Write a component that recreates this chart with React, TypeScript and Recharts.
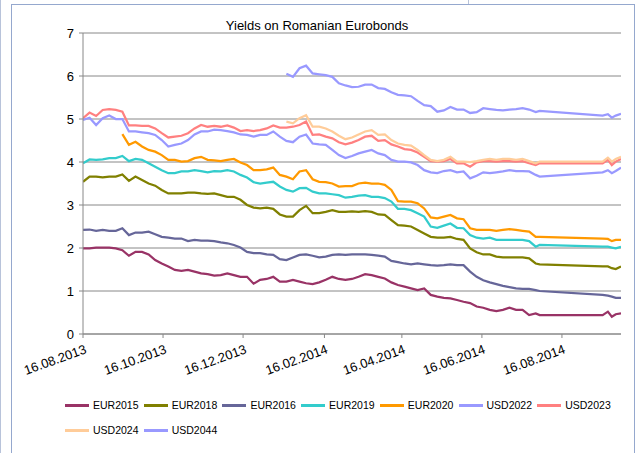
import React from 'react';
import { LineChart, Line, XAxis, YAxis, CartesianGrid } from 'recharts';

// Days since 16.08.2013 (gap in the data between day 348 and day 396)
const days = [
  0, 5, 10, 15, 20, 25, 30, 35, 40, 45,
  50, 55, 60, 65, 70, 75, 80, 85, 90, 95,
  100, 105, 110, 115, 120, 125, 130, 135, 140, 145,
  150, 155, 160, 165, 170, 175, 180, 185, 190, 195,
  200, 205, 210, 215, 220, 225, 230, 235, 240, 245,
  250, 255, 260, 265, 270, 275, 280, 285, 290, 295,
  300, 305, 310, 315, 320, 325, 330, 335, 340, 345,
  348, 396, 400, 403, 406, 410,
];

const tickDays = [0, 61, 122, 184, 243, 304, 365];
const tickLabels = ['16.08.2013', '16.10.2013', '16.12.2013', '16.02.2014', '16.04.2014', '16.06.2014', '16.08.2014'];
const yTicks = [0, 1, 2, 3, 4, 5, 6, 7];

const seriesNames = ['EUR2015', 'EUR2018', 'EUR2016', 'EUR2019', 'EUR2020', 'USD2022', 'USD2023', 'USD2024', 'USD2044'];
const seriesColors = ['#993366', '#808000', '#666699', '#33CCCC', '#FF9900', '#9999FF', '#FF8080', '#FFCC99', '#9999FF'];

const eur2015 = [
  1.99, 1.99, 2.01, 2.01, 2.01, 1.99, 1.95, 1.82, 1.91, 1.91,
  1.85, 1.72, 1.64, 1.57, 1.49, 1.47, 1.49, 1.45, 1.41, 1.39,
  1.36, 1.37, 1.41, 1.37, 1.33, 1.33, 1.17, 1.26, 1.28, 1.33,
  1.22, 1.22, 1.26, 1.22, 1.18, 1.16, 1.20, 1.26, 1.33, 1.28,
  1.26, 1.28, 1.33, 1.39, 1.37, 1.33, 1.29, 1.20, 1.14, 1.10,
  1.06, 1.02, 1.06, 0.91, 0.87, 0.84, 0.83, 0.79, 0.75, 0.72,
  0.64, 0.61, 0.56, 0.53, 0.56, 0.61, 0.56, 0.56, 0.44, 0.48,
  0.44, 0.44, 0.52, 0.40, 0.46, 0.48,
];
const eur2018 = [
  3.54, 3.66, 3.66, 3.64, 3.66, 3.66, 3.71, 3.56, 3.66, 3.58,
  3.50, 3.45, 3.35, 3.27, 3.27, 3.27, 3.29, 3.29, 3.27, 3.26,
  3.27, 3.23, 3.19, 3.19, 3.12, 3.00, 2.94, 2.92, 2.94, 2.91,
  2.78, 2.73, 2.73, 2.88, 2.98, 2.81, 2.81, 2.84, 2.88, 2.84,
  2.84, 2.85, 2.84, 2.86, 2.84, 2.78, 2.77, 2.65, 2.53, 2.52,
  2.50, 2.42, 2.34, 2.26, 2.24, 2.24, 2.26, 2.21, 2.19, 1.99,
  1.90, 1.85, 1.85, 1.80, 1.78, 1.78, 1.78, 1.78, 1.76, 1.64,
  1.62, 1.57, 1.57, 1.53, 1.51, 1.57,
];
const eur2016 = [
  2.42, 2.43, 2.40, 2.42, 2.40, 2.40, 2.46, 2.30, 2.36, 2.36,
  2.38, 2.32, 2.26, 2.24, 2.22, 2.22, 2.16, 2.19, 2.17, 2.17,
  2.16, 2.13, 2.11, 2.07, 2.01, 1.91, 1.88, 1.88, 1.85, 1.84,
  1.74, 1.72, 1.78, 1.84, 1.85, 1.82, 1.78, 1.80, 1.84, 1.85,
  1.84, 1.85, 1.85, 1.85, 1.84, 1.82, 1.80, 1.70, 1.67, 1.64,
  1.62, 1.64, 1.62, 1.60, 1.59, 1.60, 1.62, 1.60, 1.60, 1.45,
  1.33, 1.25, 1.20, 1.16, 1.12, 1.09, 1.06, 1.05, 1.05, 1.02,
  1.00, 0.91, 0.89, 0.87, 0.84, 0.84,
];
const eur2019 = [
  3.97, 4.06, 4.05, 4.06, 4.09, 4.09, 4.14, 4.02, 4.07, 4.05,
  3.97, 3.89, 3.81, 3.74, 3.74, 3.78, 3.78, 3.81, 3.79, 3.76,
  3.79, 3.78, 3.81, 3.78, 3.70, 3.64, 3.53, 3.50, 3.52, 3.54,
  3.43, 3.35, 3.31, 3.39, 3.40, 3.31, 3.27, 3.27, 3.25, 3.23,
  3.17, 3.19, 3.22, 3.23, 3.19, 3.19, 3.16, 3.08, 2.91, 2.91,
  2.88, 2.81, 2.73, 2.50, 2.47, 2.52, 2.57, 2.47, 2.46, 2.30,
  2.24, 2.22, 2.24, 2.19, 2.19, 2.19, 2.19, 2.19, 2.16, 2.03,
  2.07, 2.03, 2.03, 2.01, 1.99, 2.03,
];
const eur2020 = [
  null, null, null, null, null, null, 4.65, 4.40, 4.47, 4.36,
  4.28, 4.24, 4.16, 4.05, 4.05, 4.01, 4.02, 4.09, 4.12, 4.05,
  4.04, 4.02, 4.05, 4.07, 3.99, 3.93, 3.81, 3.81, 3.83, 3.87,
  3.70, 3.66, 3.60, 3.78, 3.81, 3.60, 3.54, 3.53, 3.50, 3.43,
  3.44, 3.44, 3.50, 3.52, 3.50, 3.50, 3.47, 3.35, 3.09, 3.08,
  3.08, 3.04, 2.92, 2.71, 2.69, 2.73, 2.77, 2.69, 2.67, 2.46,
  2.42, 2.42, 2.42, 2.40, 2.42, 2.44, 2.42, 2.40, 2.38, 2.26,
  2.26, 2.22, 2.21, 2.16, 2.19, 2.19,
];
const usd2022 = [
  null, null, null, null, null, null, null, null, null, null,
  null, null, null, null, null, null, null, null, null, null,
  null, null, null, null, null, null, null, null, null, null,
  null, 6.05, 5.98, 6.18, 6.24, 6.06, 6.04, 6.02, 5.98, 5.83,
  5.78, 5.74, 5.75, 5.80, 5.80, 5.72, 5.70, 5.62, 5.56, 5.55,
  5.53, 5.42, 5.32, 5.30, 5.17, 5.20, 5.28, 5.22, 5.22, 5.14,
  5.16, 5.25, 5.23, 5.21, 5.20, 5.22, 5.23, 5.25, 5.22, 5.16,
  5.19, 5.08, 5.11, 5.03, 5.08, 5.12,
];
const usd2023 = [
  5.02, 5.15, 5.07, 5.21, 5.23, 5.21, 5.17, 4.85, 4.85, 4.84,
  4.84, 4.78, 4.67, 4.57, 4.59, 4.61, 4.67, 4.78, 4.86, 4.82,
  4.84, 4.82, 4.85, 4.80, 4.72, 4.74, 4.72, 4.74, 4.78, 4.85,
  4.80, 4.80, 4.82, 4.86, 4.94, 4.63, 4.64, 4.59, 4.55, 4.46,
  4.41, 4.45, 4.51, 4.59, 4.61, 4.49, 4.51, 4.41, 4.36, 4.30,
  4.28, 4.22, 4.12, 4.02, 4.01, 4.02, 4.07, 3.97, 3.97, 3.89,
  3.99, 4.02, 4.02, 4.01, 4.02, 4.02, 4.01, 4.02, 3.97, 3.93,
  3.97, 3.97, 4.05, 3.93, 4.01, 4.07,
];
const usd2024 = [
  null, null, null, null, null, null, null, null, null, null,
  null, null, null, null, null, null, null, null, null, null,
  null, null, null, null, null, null, null, null, null, null,
  null, 4.94, 4.90, 5.02, 5.09, 4.82, 4.82, 4.78, 4.71, 4.61,
  4.53, 4.57, 4.64, 4.71, 4.74, 4.63, 4.64, 4.51, 4.43, 4.40,
  4.38, 4.28, 4.16, 4.05, 4.02, 4.05, 4.12, 4.01, 4.01, 4.00,
  4.02, 4.05, 4.07, 4.05, 4.07, 4.07, 4.05, 4.07, 4.02, 3.97,
  4.01, 4.01, 4.10, 4.01, 4.07, 4.12,
];
const usd2044 = [
  4.98, 5.03, 4.86, 5.02, 5.08, 5.00, 5.00, 4.71, 4.71, 4.69,
  4.67, 4.63, 4.51, 4.36, 4.40, 4.43, 4.51, 4.64, 4.71, 4.71,
  4.75, 4.74, 4.72, 4.69, 4.64, 4.63, 4.59, 4.63, 4.63, 4.71,
  4.59, 4.49, 4.46, 4.59, 4.64, 4.43, 4.41, 4.40, 4.28, 4.16,
  4.09, 4.14, 4.20, 4.24, 4.28, 4.20, 4.16, 4.05, 4.01, 4.01,
  3.99, 3.93, 3.81, 3.76, 3.74, 3.79, 3.81, 3.76, 3.78, 3.62,
  3.68, 3.76, 3.74, 3.76, 3.78, 3.81, 3.79, 3.79, 3.78, 3.70,
  3.66, 3.76, 3.81, 3.74, 3.79, 3.87,
];

const seriesValues = [eur2015, eur2018, eur2016, eur2019, eur2020, usd2022, usd2023, usd2024, usd2044];

const data = days.map((d, i) => {
  const row: Record<string, number | null> = { day: d };
  seriesNames.forEach((n, k) => {
    row[n] = seriesValues[k][i];
  });
  return row;
});

const FONT = '"Liberation Sans", Arial, sans-serif';
const GRID = '#888888';

const XTick = (props: any) => {
  const { x, y, payload } = props;
  const idx = tickDays.indexOf(payload.value);
  const label = idx >= 0 ? tickLabels[idx] : '';
  const tx = x + 1;
  return (
    <text
      x={tx}
      y={y}
      dy="0.72em"
      textAnchor="end"
      transform={`rotate(-20, ${tx}, ${y})`}
      fontSize={13}
      fontFamily={FONT}
      fill="#000"
    >
      {label}
    </text>
  );
};

export default function App() {
  return (
    <div
      style={{
        position: 'absolute',
        left: 0,
        top: 0,
        width: 636,
        height: 453,
        overflow: 'hidden',
        background: '#fff',
        fontFamily: FONT,
      }}
    >
      <div style={{ position: 'absolute', left: 0, top: 0, width: 1, height: 453, background: '#B8C3DA' }} />
      <div style={{ position: 'absolute', left: 468, top: 0, width: 1, height: 5, background: '#B8C3DA' }} />
      <div
        style={{
          position: 'absolute',
          left: 11,
          top: 4,
          width: 624,
          height: 470,
          border: '1px solid #95A8CE',
          boxSizing: 'border-box',
        }}
      />
      <div
        style={{
          position: 'absolute',
          left: 0,
          top: 18,
          width: 634,
          textAlign: 'center',
          fontSize: 13,
          lineHeight: '15px',
          color: '#000',
        }}
      >
        Yields on Romanian Eurobonds
      </div>
      <div style={{ position: 'absolute', left: 0, top: 0 }}>
        <LineChart width={636} height={453} data={data} margin={{ top: 33, right: 15, bottom: 89, left: 0 }}>
          <CartesianGrid vertical={false} horizontal={true} stroke={GRID} strokeWidth={1} />
          <XAxis
            dataKey="day"
            type="number"
            domain={[0, 410]}
            ticks={tickDays}
            interval={0}
            height={30}
            tickSize={4}
            tickMargin={6}
            axisLine={{ stroke: GRID }}
            tickLine={{ stroke: GRID }}
            tick={<XTick />}
            allowDataOverflow
          />
          <YAxis
            type="number"
            domain={[0, 7]}
            ticks={yTicks}
            interval={0}
            width={83}
            tickSize={4}
            tickMargin={5}
            axisLine={{ stroke: GRID }}
            tickLine={{ stroke: GRID }}
            tick={{ fontSize: 13, fill: '#000', fontFamily: FONT }}
          />
          {seriesNames.map((n, k) => (
            <Line
              key={n}
              dataKey={n}
              type="linear"
              stroke={seriesColors[k]}
              strokeWidth={2.25}
              dot={false}
              activeDot={false}
              isAnimationActive={false}
            />
          ))}
        </LineChart>
      </div>
      {seriesNames.map((n, k) => {
        const row = Math.floor(k / 7);
        const col = k % 7;
        const left = 65 + col * 78.7;
        const cy = row === 0 ? 405 : 430;
        return (
          <div key={n}>
            <div
              style={{
                position: 'absolute',
                left,
                top: cy - 1.5,
                width: 24,
                height: 3,
                background: seriesColors[k],
              }}
            />
            <div
              style={{
                position: 'absolute',
                left: left + 28,
                top: cy - 6,
                fontSize: 10.5,
                lineHeight: '12px',
                color: '#000',
                whiteSpace: 'nowrap',
              }}
            >
              {n}
            </div>
          </div>
        );
      })}
    </div>
  );
}
